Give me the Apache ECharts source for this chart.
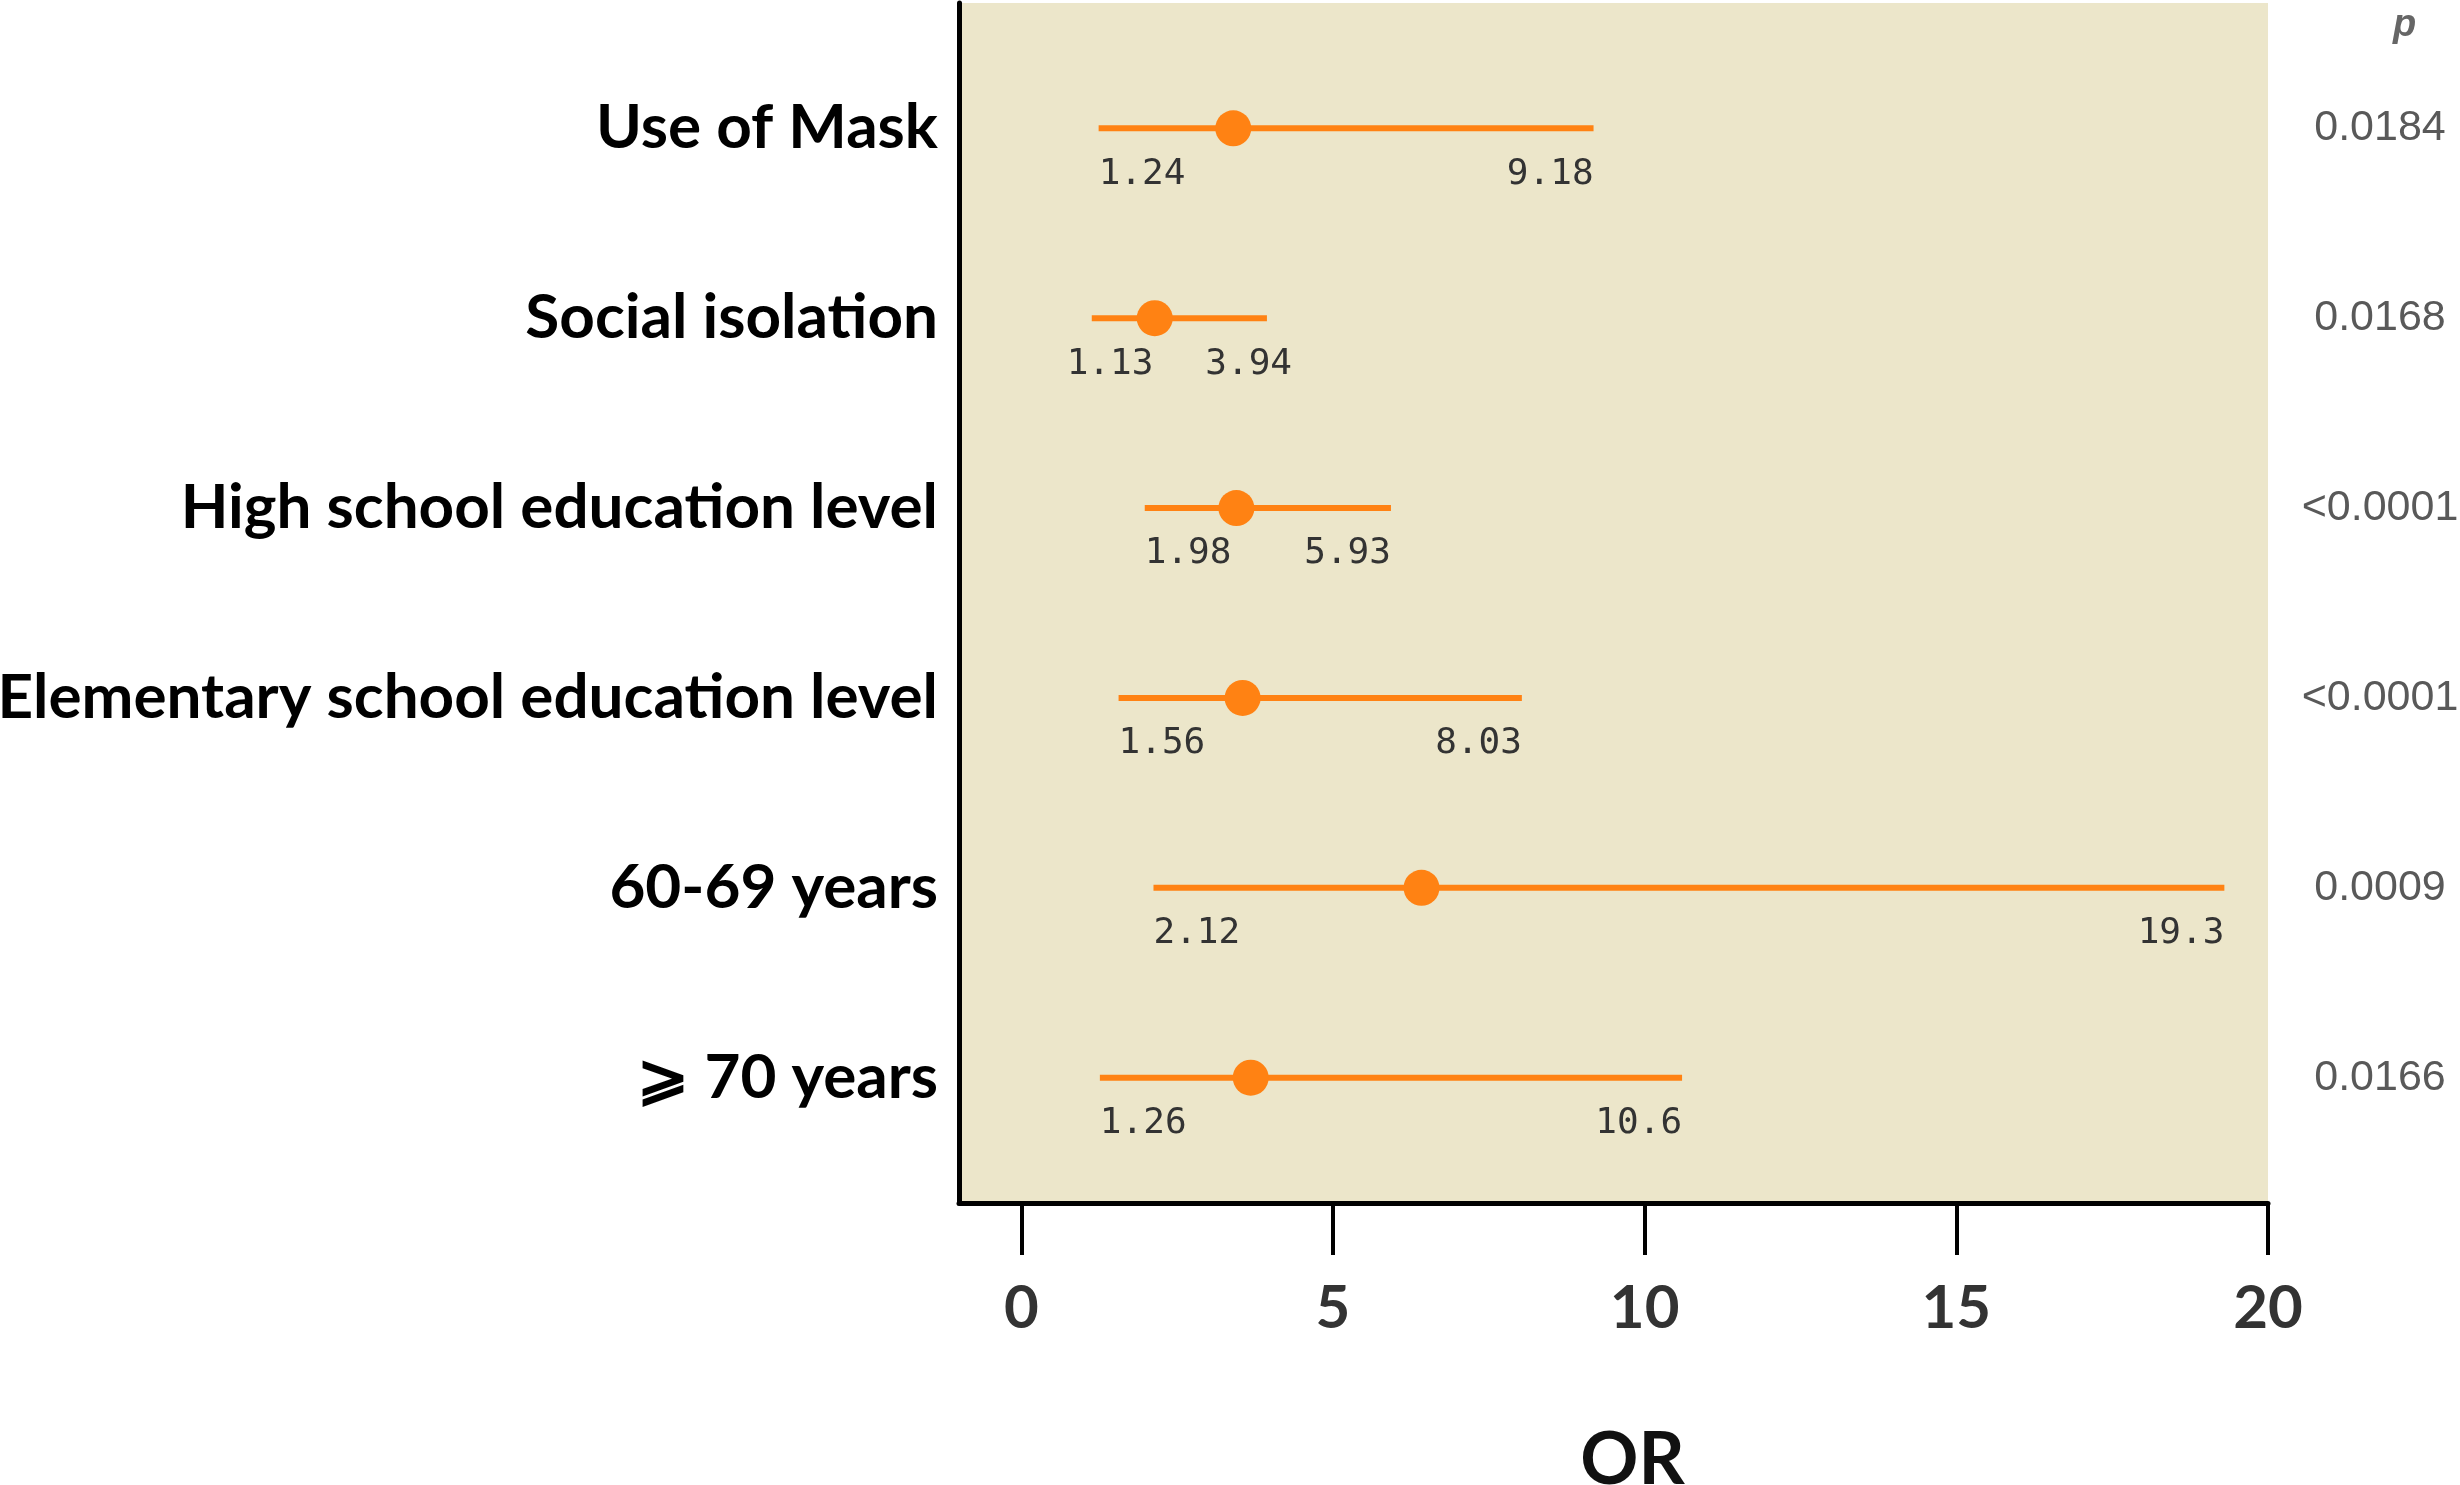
<!DOCTYPE html>
<html>
<head>
    <meta charset="utf-8">
    <title>OR forest plot</title>
    <script type="text/javascript" src="https://cdn.jsdelivr.net/npm/echarts@6.0.0/dist/echarts.min.js"></script>
    <style>
        html, body { margin: 0; padding: 0; background: #fff; }
    </style>
</head>
<body>
<div id="main" style="width: 2460px;height:1485px;"></div>
<script type="text/javascript">
    // rows from top to bottom
    var categories = ['Use of Mask', 'Social isolation', 'High school education level',
        'Elementary school education level', '60-69 years', '\u2A7E 70 years'];
    var orValues = [3.40, 2.14, 3.45, 3.55, 6.42, 3.68];
    var lowerCI = [1.24, 1.13, 1.98, 1.56, 2.12, 1.26];
    var upperCI = [9.18, 3.94, 5.93, 8.03, 19.3, 10.6];
    var pValues = ['0.0184', '0.0168', '<0.0001', '<0.0001', '0.0009', '0.0166'];
    var xTicks = [0, 5, 10, 15, 20];

    var orange = '#FF8213';
    var n = categories.length;
    var rowPos = categories.map(function (c, i) { return n - i; });

    var seriesData = categories.map(function (c, i) {
        return [i, lowerCI[i], orValues[i], upperCI[i], rowPos[i]];
    });

    var labelFont = { fontFamily: 'DejaVu Sans Mono', fontSize: 36 };

    var myChart = echarts.init(document.getElementById('main'));

    var option = {
        animation: false,
        title: {
            text: 'p',
            left: 2388,
            top: 2,
            textStyle: {
                fontFamily: 'Liberation Sans',
                fontStyle: 'italic',
                fontWeight: 'bold',
                fontSize: 38,
                color: '#666'
            }
        },
        grid: {
            left: 959,
            right: 192,
            top: 3,
            bottom: 282,
            show: true,
            backgroundColor: '#ECE6CA',
            borderWidth: 0,
            containLabel: false,
            outerBoundsMode: 'none'
        },
        xAxis: {
            type: 'value',
            min: -1,
            max: 20,
            name: 'OR',
            nameLocation: 'middle',
            nameGap: 222,
            nameTextStyle: {
                fontFamily: 'Lato',
                fontWeight: 'bold',
                fontSize: 72,
                color: '#111',
                padding: [0, 0, 0, 38]
            },
            splitLine: { show: false },
            axisLine: { show: true, onZero: false, lineStyle: { color: '#000', width: 5 } },
            axisTick: {
                show: true,
                customValues: xTicks,
                length: 52,
                lineStyle: { color: '#000', width: 4 }
            },
            axisLabel: {
                customValues: xTicks,
                margin: 76,
                fontFamily: 'Lato',
                fontWeight: 'bold',
                fontSize: 60,
                color: '#333'
            }
        },
        yAxis: [{
            type: 'value',
            min: 0.34,
            max: 6.66,
            splitLine: { show: false },
            axisLine: { show: true, onZero: false, lineStyle: { color: '#000', width: 5 } },
            axisTick: { show: false },
            axisLabel: {
                customValues: rowPos,
                margin: 21,
                fontFamily: 'Lato',
                fontWeight: 'bold',
                fontSize: 62,
                color: '#000',
                formatter: function (v) {
                    return categories[n - Math.round(v)];
                }
            }
        }, {
            type: 'value',
            position: 'right',
            min: 0.34,
            max: 6.66,
            splitLine: { show: false },
            axisLine: { show: false, onZero: false },
            axisTick: { show: false },
            axisLabel: {
                customValues: rowPos,
                margin: 112,
                align: 'center',
                fontFamily: 'Liberation Sans',
                fontSize: 43,
                color: '#595959',
                formatter: function (v) {
                    return pValues[n - Math.round(v)];
                }
            }
        }],
        series: [{
            type: 'custom',
            xAxisIndex: 0,
            yAxisIndex: 0,
            data: seriesData,
            renderItem: function (params, api) {
                var y = api.value(4);
                var a = api.coord([api.value(1), y]);
                var m = api.coord([api.value(2), y]);
                var b = api.coord([api.value(3), y]);
                var loText = String(api.value(1));
                var hiText = String(api.value(3));
                var font = labelFont.fontSize + 'px "' + labelFont.fontFamily + '"';
                var wLo = echarts.format.getTextRect ? echarts.format.getTextRect(loText, font).width : loText.length * 22;
                var wHi = echarts.format.getTextRect ? echarts.format.getTextRect(hiText, font).width : hiText.length * 22;
                var loX = a[0], loAlign = 'left';
                var hiX = b[0], hiAlign = 'right';
                // narrow interval: push the two labels apart around the middle
                if (a[0] + wLo + 20 > b[0] - wHi) {
                    var mid = (a[0] + b[0]) / 2;
                    loX = mid - 26; loAlign = 'right';
                    hiX = mid + 26; hiAlign = 'left';
                }
                var labelStyle = {
                    fontFamily: labelFont.fontFamily,
                    fontSize: labelFont.fontSize,
                    fill: '#333',
                    verticalAlign: 'middle'
                };
                return {
                    type: 'group',
                    children: [{
                        type: 'line',
                        shape: { x1: a[0], y1: a[1], x2: b[0], y2: b[1] },
                        style: { stroke: orange, lineWidth: 6 }
                    }, {
                        type: 'circle',
                        shape: { cx: m[0], cy: m[1], r: 18 },
                        style: { fill: orange }
                    }, {
                        type: 'text',
                        x: loX,
                        y: a[1] + 46,
                        style: echarts.util.extend({ text: loText, align: loAlign }, labelStyle)
                    }, {
                        type: 'text',
                        x: hiX,
                        y: b[1] + 46,
                        style: echarts.util.extend({ text: hiText, align: hiAlign }, labelStyle)
                    }]
                };
            }
        }]
    };

    myChart.setOption(option);
</script>
</body>
</html>
